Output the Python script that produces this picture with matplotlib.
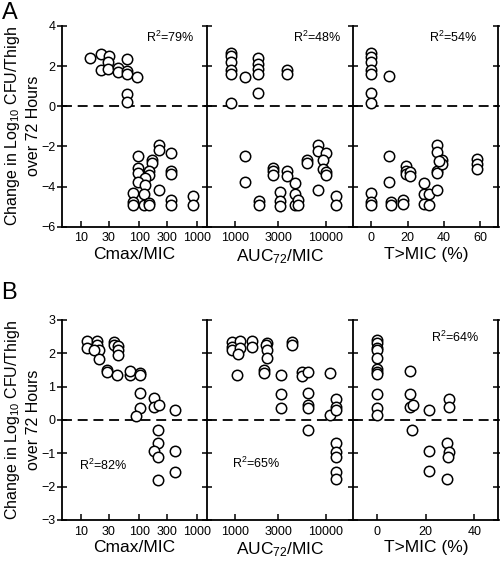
import numpy as np
import matplotlib
matplotlib.use("Agg")
import matplotlib.pyplot as plt

plt.rcParams["font.family"] = ["Liberation Sans", "DejaVu Sans"]
plt.rcParams["mathtext.default"] = "regular"

# ---- panel A ----
a_cmax_x = [14.3, 21.8, 30, 28.7, 21.8, 29.5, 43.8, 43.8, 61, 61, 61, 93, 61, 61,
            221, 221, 352, 94, 164, 164, 94, 94, 149, 149, 126, 94, 352, 352, 126,
            79, 122, 221, 79, 79, 122, 147, 147, 352, 352, 830, 830]
a_cmax_y = [2.43, 2.58, 2.52, 2.22, 1.83, 1.88, 1.93, 1.72, 2.38, 1.77, 1.6, 1.47, 0.63, 0.22,
            -1.92, -2.2, -2.32, -2.5, -2.67, -2.85, -3.07, -3.3, -3.2, -3.4, -3.55, -3.75, -3.2,
            -3.35, -3.9, -4.3, -4.35, -4.17, -4.75, -4.9, -4.9, -4.8, -4.92, -4.68, -4.92,
            -4.45, -4.92]

a_auc_x = [897, 897, 897, 897, 897, 897, 1290, 1807, 1807, 1807, 1807, 1807, 3715, 3715,
           1290, 1290, 1854, 1854, 2605, 2605, 2605, 3133, 3133, 3133, 3776, 3776, 4590,
           4590, 4590, 4990, 4990, 6270, 6270, 8300, 8300, 10000, 9270, 9270, 10000, 10000,
           8300, 13000, 13000]
a_auc_y = [2.63, 2.5, 2.22, 1.8, 1.6, 0.17, 1.47, 2.42, 2.13, 1.88, 1.6, 0.68, 1.8, 1.63,
           -2.48, -3.75, -4.73, -4.9, -3.07, -3.23, -3.4, -4.28, -4.73, -4.95, -3.23, -3.48,
           -3.83, -4.37, -4.93, -4.67, -4.93, -2.67, -2.82, -1.92, -2.25, -2.33, -2.7, -3.12,
           -3.25, -3.4, -4.17, -4.45, -4.92]

a_tmic_x = [0, 0, 0, 0, 0, 0, 0, 9.9, 9.9, 9.9, 0, 0, 0, 11, 11, 19.1, 19.1, 19.1, 21.4,
            21.4, 17.7, 17.7, 29.3, 29.3, 29.3, 32, 32, 36.1, 36.1, 36.1, 36.1, 36.1, 38.8,
            38.8, 37.5, 58.1, 58.1, 58.1]
a_tmic_y = [2.63, 2.47, 2.22, 1.8, 1.6, 0.67, 0.17, 1.5, -2.48, -3.75, -4.33, -4.75, -4.9,
            -4.75, -4.9, -3.0, -3.2, -3.35, -3.25, -3.45, -4.67, -4.87, -3.83, -4.37, -4.87,
            -4.37, -4.9, -4.15, -1.95, -2.28, -3.2, -3.3, -2.7, -2.87, -2.75, -2.62, -2.87,
            -3.12]

# ---- panel B ----
b_cmax_x = [12.8, 12.8, 18.6, 18.6, 20.4, 16.5, 20.4, 27.6, 28, 37.3, 37.3, 43.8, 43.8,
            43.8, 42, 69.5, 69.5, 103, 103, 103, 103, 88, 180, 180, 219, 412, 213, 213,
            180, 213, 213, 412, 412]
b_cmax_y = [2.37, 2.15, 2.37, 2.25, 2.1, 2.1, 1.83, 1.5, 1.45, 2.35, 2.25, 2.22, 2.1, 1.95,
            1.35, 1.35, 1.47, 1.42, 1.35, 0.8, 0.37, 0.12, 0.65, 0.38, 0.45, 0.3, -0.3, -0.7,
            -0.93, -1.1, -1.8, -0.92, -1.55]

b_auc_x = [920, 920, 920, 1135, 1135, 1070, 1550, 1550, 2234, 2200, 2234, 2260, 2100, 2100,
           1060, 3213, 3213, 3213, 4200, 4200, 5520, 5520, 6420, 6420, 6420, 6420, 6420,
           11100, 11100, 13000, 13000, 13000, 13000, 13000, 13000, 13000, 13000]
b_auc_y = [2.35, 2.2, 2.1, 2.38, 2.15, 1.97, 2.38, 2.18, 2.3, 2.25, 2.1, 1.85, 1.5, 1.4,
           1.35, 1.35, 0.78, 0.35, 2.35, 2.25, 1.45, 1.32, 1.45, 0.8, 0.45, 0.35, -0.3,
           1.4, 0.15, 0.63, 0.4, 0.3, -0.7, -0.95, -1.1, -1.55, -1.78]

b_tmic_x = [0, 0, 0, 0, 0, 0, 0, 0, 0, 0, 0, 13.3, 13.3, 13.3, 14.6, 14.2, 21.5, 21.5, 21.5,
            29.5, 29.5, 28.8, 29.5, 29, 28.8]
b_tmic_y = [2.4, 2.3, 2.15, 2.1, 1.85, 1.52, 1.45, 1.37, 0.78, 0.35, 0.15, 1.47, 0.78, 0.38,
            0.45, -0.3, 0.3, -0.92, -1.53, 0.63, 0.4, -0.7, -0.95, -1.1, -1.78]

r2_a = ["79%", "48%", "54%"]
r2_b = ["82%", "65%", "64%"]
xlabels = ["Cmax/MIC", "AUC$_{72}$/MIC", "T>MIC (%)"]

fig = plt.figure(figsize=(5, 5.64), dpi=100)
W, H = 500.0, 564.0
lefts = [62.3, 207, 353]
widths = [144.7, 146, 145.5]


def make_row(top_px, bot_px, data, ylim, yticks, tmic_lim, tmic_ticks, r2, r2_pos):
    axes = []
    for i in range(3):
        ax = fig.add_axes([lefts[i] / W, 1 - bot_px / H, widths[i] / W, (bot_px - top_px) / H])
        x, y = data[i]
        ax.plot(x, y, "o", ms=7.5, mfc="white", mec="black", mew=1.1, ls="none", zorder=3)
        ax.axhline(0, color="black", ls=(0, (5.5, 3.2)), lw=1.3, zorder=2)
        ax.set_ylim(*ylim)
        ax.set_yticks(yticks)
        for s in ("top", "right"):
            ax.spines[s].set_visible(False)
        for s in ("left", "bottom"):
            ax.spines[s].set_linewidth(1.3)
        ax.tick_params(axis="y", direction="inout", length=7, width=1.1, labelsize=9, pad=1.5)
        ax.tick_params(axis="x", direction="in", length=4, width=1.1, labelsize=9, pad=4)
        if i > 0:
            ax.tick_params(axis="y", labelleft=False)
        ax.set_xlabel(xlabels[i], fontsize=12.5, labelpad=2)
        ax.text(r2_pos[i][0], r2_pos[i][1], "R$^2$=" + r2[i], transform=ax.transAxes,
                ha="center", va="center", fontsize=9)
        axes.append(ax)

    axes[0].set_xscale("log")
    axes[0].set_xlim(4.78, 1468)
    axes[0].set_xticks([10, 30, 100, 300, 1000])
    axes[0].set_xticklabels(["10", "30", "100", "300", "1000"])
    axes[0].minorticks_off()

    axes[1].set_xscale("log")
    axes[1].set_xlim(491, 20000)
    axes[1].set_xticks([1000, 3000, 10000])
    axes[1].set_xticklabels(["1000", "3000", "10000"])
    axes[1].minorticks_off()

    axes[2].set_xlim(*tmic_lim)
    axes[2].set_xticks(tmic_ticks)
    axes[2].spines["right"].set_visible(True)
    axes[2].spines["right"].set_linewidth(1.3)
    axes[2].tick_params(axis="y", right=True)
    return axes


row_a = make_row(26, 226.7,
                 [(a_cmax_x, a_cmax_y), (a_auc_x, a_auc_y), (a_tmic_x, a_tmic_y)],
                 (-6, 4), [-6, -4, -2, 0, 2, 4], (-10, 70), [0, 20, 40, 60],
                 r2_a, [(0.744, 0.945), (0.757, 0.945), (0.69, 0.945)])
row_b = make_row(320, 520,
                 [(b_cmax_x, b_cmax_y), (b_auc_x, b_auc_y), (b_tmic_x, b_tmic_y)],
                 (-3, 3), [-3, -2, -1, 0, 1, 2, 3], (-10, 50), [0, 20, 40],
                 r2_b, [(0.28, 0.275), (0.34, 0.285), (0.70, 0.915)])

ylab = "Change in Log$_{10}$ CFU/Thigh\nover 72 Hours"
fig.text(22 / W, 1 - 126 / H, ylab, rotation=90, ha="center", va="center", fontsize=11.5,
         multialignment="center", linespacing=1.3)
fig.text(22 / W, 1 - 420 / H, ylab, rotation=90, ha="center", va="center", fontsize=11.5,
         multialignment="center", linespacing=1.3)

fig.text(0.003, 0.997, "A", fontsize=17, ha="left", va="top")
fig.text(0.003, 1 - 282 / H, "B", fontsize=17, ha="left", va="top")

fig.savefig("out.png", dpi=100)
